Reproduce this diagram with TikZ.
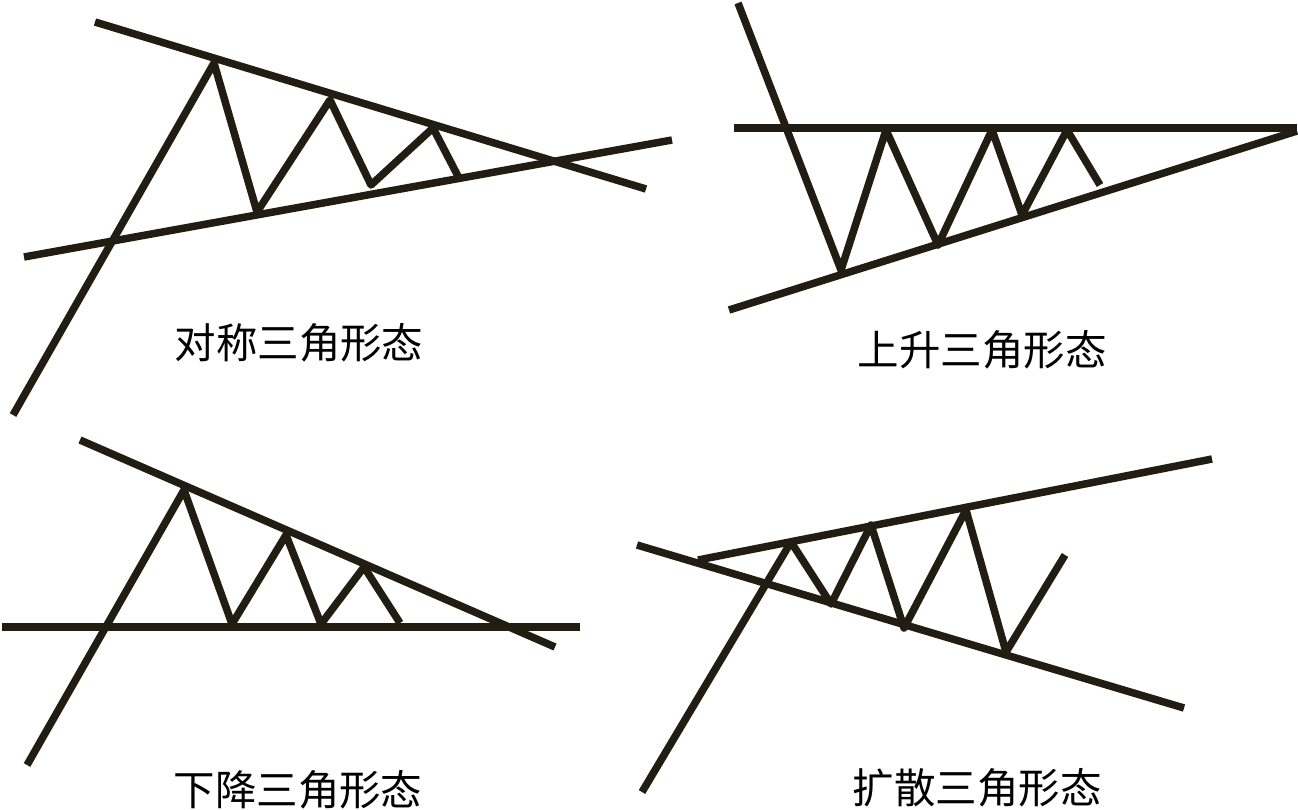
\documentclass[tikz,border=0pt]{standalone}
\usepackage{fontspec}
\newfontfamily\cjk{Noto Sans CJK SC}
\usepackage{tikz}
\usetikzlibrary{positioning}
\definecolor{inkDark}{RGB}{34,29,18}
\tikzset{
myTrend/.style={
	draw=inkDark, line width=0.075cm, line cap=butt
}
, myPrice/.style={
	draw=inkDark, line width=0.075cm, line join=round, line cap=butt
}
, myLabel/.style={
	inner sep=0pt, text=black,
	font=\cjk\fontsize{11.8pt}{12pt}\selectfont
}
}

\begin{document}
\begin{tikzpicture}[x=0.01cm,y=-0.01cm]
	\useasboundingbox (0,0) rectangle (1298,809);
	% symmetric triangle
	\draw [myTrend] (95,22) -- (646,189);
	\draw [myTrend] (24,257) -- (672,140);
	\draw [myPrice] (13,415) -- (214,63) -- (257,212) -- (330,100)
		-- (371,185) -- (433,128) -- (460,180);
	\node[myLabel] (LabelSym) at (299,343) {对称三角形态};
	% ascending triangle
	\draw [myTrend] (734,128) -- (1297,128);
	\draw [myTrend] (729,310) -- (1297,131);
	\draw [myPrice] (738,3) -- (841,270) -- (886,130) -- (938,245)
		-- (992,130) -- (1022,215) -- (1067,130) -- (1100,185);
	\node[myLabel] (LabelAsc) at (982,350) {上升三角形态};
	% descending triangle
	\draw [myTrend] (80,440) -- (555,647);
	\draw [myTrend] (2,627) -- (580,627);
	\draw [myPrice] (27,765) -- (184,490) -- (232,624) -- (286,535)
		-- (321,624) -- (364,567) -- (400,623);
	\node[myLabel] (LabelDesc) at (298,790) {下降三角形态};
	% broadening triangle
	\draw [myTrend] (637,545) -- (1184,708);
	\draw [myTrend] (698,560) -- (1212,459);
	\draw [myPrice] (642,792) -- (791,542) -- (831,604) -- (871,525)
		-- (904,628) -- (966,510) -- (1006,652) -- (1065,555);
	\node[myLabel] (LabelBroad) at (977,788) {扩散三角形态};
\end{tikzpicture}
\end{document}
